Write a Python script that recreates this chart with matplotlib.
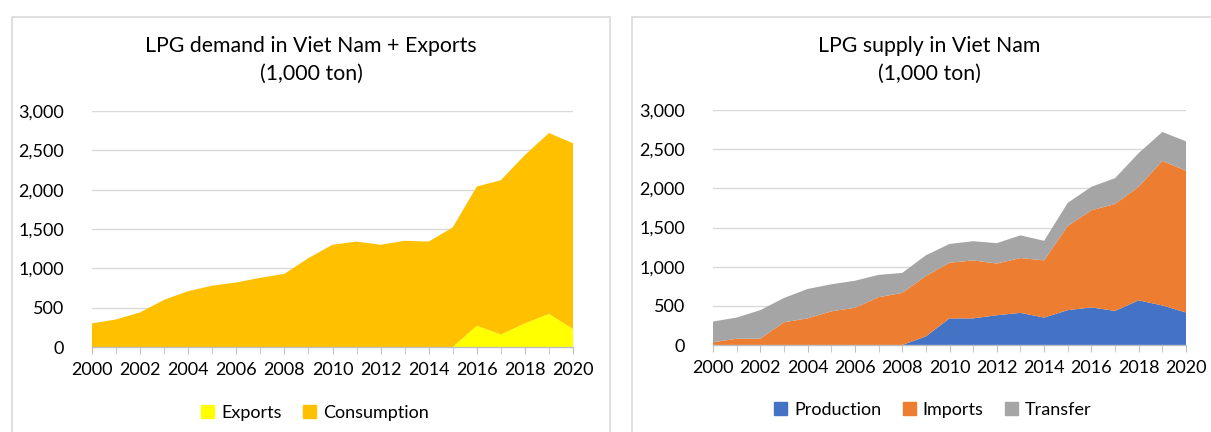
import matplotlib
matplotlib.use("Agg")
import matplotlib.pyplot as plt
from matplotlib.patches import Rectangle, Patch
import numpy as np

years = list(range(2000, 2021))

# Demand side (1,000 ton)
exports = [0, 0, 0, 0, 0, 0, 0, 0, 0, 0, 0, 0, 0, 0, 0, 0, 270, 160, 300, 420, 230]
consumption = [300, 350, 440, 600, 710, 780, 820, 880, 930, 1130, 1300, 1340,
               1300, 1350, 1340, 1520, 1770, 1960, 2140, 2300, 2360]

# Supply side (1,000 ton)
production = [0, 0, 0, 0, 0, 0, 0, 0, 0, 110, 340, 340, 380, 410, 350, 445,
              480, 435, 570, 505, 415]
imports = [35, 80, 80, 290, 340, 430, 475, 610, 665, 770, 710, 740, 660, 700,
           730, 1075, 1240, 1365, 1450, 1845, 1810]
transfer = [265, 270, 365, 310, 375, 345, 345, 285, 255, 265, 240, 245, 260,
            290, 250, 295, 300, 330, 430, 370, 375]

y_ticks = [0, 500, 1000, 1500, 2000, 2500, 3000]
x_ticks = list(range(2000, 2021, 2))

FONT = "Lato"
plt.rcParams["font.family"] = [FONT, "DejaVu Sans"]

W, H = 1211, 432
fig = plt.figure(figsize=(W / 100, H / 100), dpi=100)
fig.patch.set_facecolor("white")


def px_axes(x0, y_top, x1, y_bot):
    return fig.add_axes([x0 / W, 1 - y_bot / H, (x1 - x0) / W, (y_bot - y_top) / H])


# Panel frames
for x0, x1 in [(12, 610), (632, 1230)]:
    fig.add_artist(Rectangle((x0 / W, -0.05), (x1 - x0) / W, 1 - 17 / H + 0.05,
                             transform=fig.transFigure, fill=False,
                             edgecolor="#d9d9d9", linewidth=1.2))


def style_axes(ax):
    ax.set_xlim(2000, 2020)
    ax.set_ylim(0, 3000)
    ax.set_yticks(y_ticks)
    ax.set_yticklabels([f"{v:,}" for v in y_ticks])
    ax.set_xticks(x_ticks)
    ax.set_xticks(years, minor=True)
    ax.set_xticklabels([str(v) for v in x_ticks])
    for s in ["top", "right", "left"]:
        ax.spines[s].set_visible(False)
    ax.spines["bottom"].set_color("#bfbfbf")
    ax.spines["bottom"].set_linewidth(1.0)
    ax.spines["bottom"].set_zorder(5)
    ax.tick_params(axis="y", length=0, labelsize=13, colors="#000000", pad=20)
    ax.tick_params(axis="x", which="both", length=5, color="#bfbfbf",
                   labelsize=13, pad=6)
    ax.grid(axis="y", color="#d9d9d9", linewidth=1.0, zorder=0)
    ax.set_axisbelow(True)
    ax.set_facecolor("none")


# Left: demand + exports
ax1 = px_axes(92, 111, 573, 347)
ax1.stackplot(years, exports, consumption, colors=["#FFFF00", "#FFC000"],
              linewidth=0, zorder=2)
style_axes(ax1)
fig.text(311 / W, 1 - 46 / H, "LPG demand in Viet Nam + Exports", ha="center",
         va="center", fontsize=15.3)
fig.text(311 / W, 1 - 74 / H, "(1,000 ton)", ha="center", va="center", fontsize=15.3)
fig.legend(handles=[Patch(color="#FFFF00", label="Exports"),
                    Patch(color="#FFC000", label="Consumption")],
           loc="center", bbox_to_anchor=(315 / W, 1 - 413 / H), ncol=2,
           frameon=False, fontsize=13, handlelength=0.7, handleheight=0.7,
           handletextpad=0.4, columnspacing=1.2)

# Right: supply
ax2 = px_axes(713, 110, 1186, 345)
ax2.stackplot(years, production, imports, transfer,
              colors=["#4472C4", "#ED7D31", "#A5A5A5"], linewidth=0, zorder=2)
style_axes(ax2)
fig.text(929 / W, 1 - 46 / H, "LPG supply in Viet Nam", ha="center",
         va="center", fontsize=15.3)
fig.text(929 / W, 1 - 74 / H, "(1,000 ton)", ha="center", va="center", fontsize=15.3)
fig.legend(handles=[Patch(color="#4472C4", label="Production"),
                    Patch(color="#ED7D31", label="Imports"),
                    Patch(color="#A5A5A5", label="Transfer")],
           loc="center", bbox_to_anchor=(933 / W, 1 - 410 / H), ncol=3,
           frameon=False, fontsize=13, handlelength=0.7, handleheight=0.7,
           handletextpad=0.4, columnspacing=1.2)

fig.savefig("out.png", dpi=100, facecolor="white")
